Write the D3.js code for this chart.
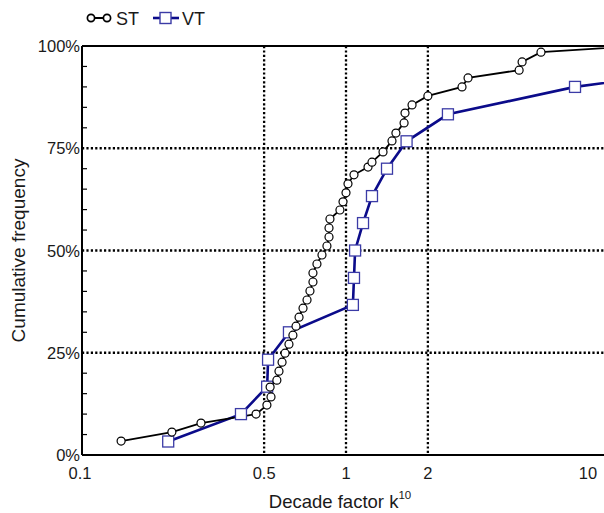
<!DOCTYPE html>
<html>
<head>
<meta charset="utf-8">
<script src="https://cdn.jsdelivr.net/npm/d3@7/dist/d3.min.js"></script>
<style>
  html, body { margin: 0; padding: 0; background: #fff; }
  svg { display: block; font-family: "Liberation Sans", Arial, sans-serif; }
</style>
</head>
<body>
<svg id="chart" width="604" height="513"></svg>
<script>
// Cumulative distribution of decade factor k^10 for ST and VT groups
const stK   = [0.149, 0.229, 0.293, 0.467, 0.512, 0.530, 0.526, 0.557, 0.567, 0.582,
               0.597, 0.617, 0.638, 0.655, 0.672, 0.695, 0.719, 0.737, 0.756, 0.756,
               0.782, 0.816, 0.851, 0.866, 0.866, 0.873, 0.950, 0.975, 1.000, 1.017,
               1.070, 1.205, 1.246, 1.368, 1.476, 1.526, 1.635, 1.648, 1.749, 2.000,
               2.67, 2.81, 4.33, 4.44, 5.21, 12.0];
const stCum = [3.4, 5.6, 7.8, 10.0, 12.2, 14.2, 16.6, 18.3, 20.5, 22.7,
               24.9, 27.1, 29.3, 31.5, 33.7, 35.9, 37.9, 40.1, 42.3, 44.5,
               46.7, 48.9, 51.1, 53.3, 55.5, 57.7, 59.9, 61.9, 64.1, 66.3,
               68.5, 70.4, 71.6, 74.1, 76.8, 78.7, 81.2, 83.6, 85.6, 87.8,
               90.0, 92.2, 94.1, 96.1, 98.5, 100];

const vtK   = [0.222, 0.411, 0.513, 0.517, 0.617, 1.06, 1.07, 1.08, 1.155, 1.246,
               1.415, 1.67, 2.37, 6.95, 40];
const vtCum = [3.3, 10.0, 16.7, 23.3, 30.0, 36.7, 43.3, 50.0, 56.7, 63.3,
               70.0, 76.7, 83.3, 90.0, 96.7];

const xTicks = [0.1, 0.5, 1, 2, 10];
const xGrid  = [0.5, 1, 2];
const yTicks = [0, 25, 50, 75, 100];
const yGrid  = [25, 50, 75];
const yMinor = d3.range(5, 100, 5).filter(v => v % 25 !== 0);

const svg = d3.select("#chart");
const plot = { left: 82, right: 604, top: 46, bottom: 455 };

const x = d3.scaleLog().domain([0.1, 10]).range([74, 618]);
const y = d3.scaleLinear().domain([0, 100]).range([plot.bottom, plot.top]);

svg.append("defs").append("clipPath").attr("id", "plotClip")
  .append("rect")
  .attr("x", plot.left).attr("y", plot.top - 8)
  .attr("width", plot.right - plot.left).attr("height", plot.bottom - plot.top + 16);

const navy = "#0b0b8a";
const textColor = "#1a1a1a";

// dotted gridlines
const grid = svg.append("g")
  .attr("stroke", "#000").attr("stroke-width", 2.3).attr("stroke-dasharray", "2.2,2.2");
grid.selectAll("line.v").data(xGrid).join("line")
  .attr("x1", d => x(d)).attr("x2", d => x(d))
  .attr("y1", plot.top).attr("y2", plot.bottom);
grid.selectAll("line.h").data(yGrid).join("line")
  .attr("x1", plot.left).attr("x2", plot.right)
  .attr("y1", d => y(d)).attr("y2", d => y(d));

// minor ticks on the y axis
svg.append("g").selectAll("line").data(yMinor).join("line")
  .attr("x1", plot.left).attr("x2", plot.left + 5)
  .attr("y1", d => y(d)).attr("y2", d => y(d))
  .attr("stroke", "#000").attr("stroke-width", 1.2);

// series
const data = {
  st: stK.map((k, i) => ({ k, c: stCum[i] })),
  vt: vtK.map((k, i) => ({ k, c: vtCum[i] }))
};
const line = d3.line().x(d => x(d.k)).y(d => y(d.c));
const series = svg.append("g").attr("clip-path", "url(#plotClip)");

series.append("path").datum(data.vt).attr("d", line)
  .attr("fill", "none").attr("stroke", navy).attr("stroke-width", 2.6);
series.append("path").datum(data.st).attr("d", line)
  .attr("fill", "none").attr("stroke", "#000").attr("stroke-width", 1.8);

series.selectAll("rect.vt").data(data.vt).join("rect")
  .attr("x", d => x(d.k) - 5.5).attr("y", d => y(d.c) - 5.5)
  .attr("width", 11).attr("height", 11)
  .attr("fill", "#fff").attr("stroke", "#3b3ba6").attr("stroke-width", 1.3);
series.selectAll("circle.st").data(data.st).join("circle")
  .attr("cx", d => x(d.k)).attr("cy", d => y(d.c)).attr("r", 4)
  .attr("fill", "#fff").attr("stroke", "#000").attr("stroke-width", 1.2);

// axis frame
const frame = svg.append("g").attr("stroke", "#000").attr("stroke-width", 2);
frame.append("line").attr("x1", plot.left).attr("x2", plot.left)
  .attr("y1", plot.top).attr("y2", plot.bottom);
frame.append("line").attr("x1", plot.left).attr("x2", plot.right)
  .attr("y1", plot.bottom).attr("y2", plot.bottom);
frame.append("line").attr("x1", plot.left).attr("x2", plot.right)
  .attr("y1", plot.top).attr("y2", plot.top);

// y tick labels
svg.append("g").selectAll("text").data(yTicks).join("text")
  .attr("x", plot.left - 2).attr("y", d => y(d) + 6)
  .attr("text-anchor", "end").attr("font-size", 16.5).attr("fill", textColor)
  .text(d => d + "%");

// x tick labels (end labels kept inside the visible frame)
svg.append("g").selectAll("text").data(xTicks).join("text")
  .attr("x", d => Math.min(Math.max(x(d), plot.left - 2), plot.right - 16))
  .attr("y", 479)
  .attr("text-anchor", "middle").attr("font-size", 16.5).attr("fill", textColor)
  .text(d => String(d));

// axis titles
svg.append("text")
  .attr("transform", `translate(25,${(plot.top + plot.bottom) / 2}) rotate(-90)`)
  .attr("text-anchor", "middle").attr("font-size", 19).attr("fill", textColor)
  .text("Cumulative frequency");
const xt = svg.append("text")
  .attr("x", 340).attr("y", 508)
  .attr("text-anchor", "middle").attr("font-size", 18.5).attr("fill", textColor);
xt.append("tspan").text("Decade factor k");
xt.append("tspan").attr("dy", -9).attr("font-size", 11.5).text("10");

// legend
const lg = svg.append("g").attr("transform", "translate(0,18)");
lg.append("line").attr("x1", 91).attr("x2", 107).attr("y1", 0).attr("y2", 0)
  .attr("stroke", "#000").attr("stroke-width", 2);
lg.selectAll("circle").data([91, 107]).join("circle")
  .attr("cx", d => d).attr("cy", 0).attr("r", 3.6)
  .attr("fill", "#fff").attr("stroke", "#000").attr("stroke-width", 1.7);
lg.append("text").attr("x", 116).attr("y", 6.5).attr("font-size", 18).attr("fill", textColor).text("ST");
lg.append("line").attr("x1", 153).attr("x2", 179).attr("y1", 0).attr("y2", 0)
  .attr("stroke", navy).attr("stroke-width", 2.6);
lg.append("rect").attr("x", 160).attr("y", -5.5).attr("width", 11).attr("height", 11)
  .attr("fill", "#fff").attr("stroke", "#3b3ba6").attr("stroke-width", 1.4);
lg.append("text").attr("x", 182).attr("y", 6.5).attr("font-size", 18).attr("fill", textColor).text("VT");
</script>
</body>
</html>
